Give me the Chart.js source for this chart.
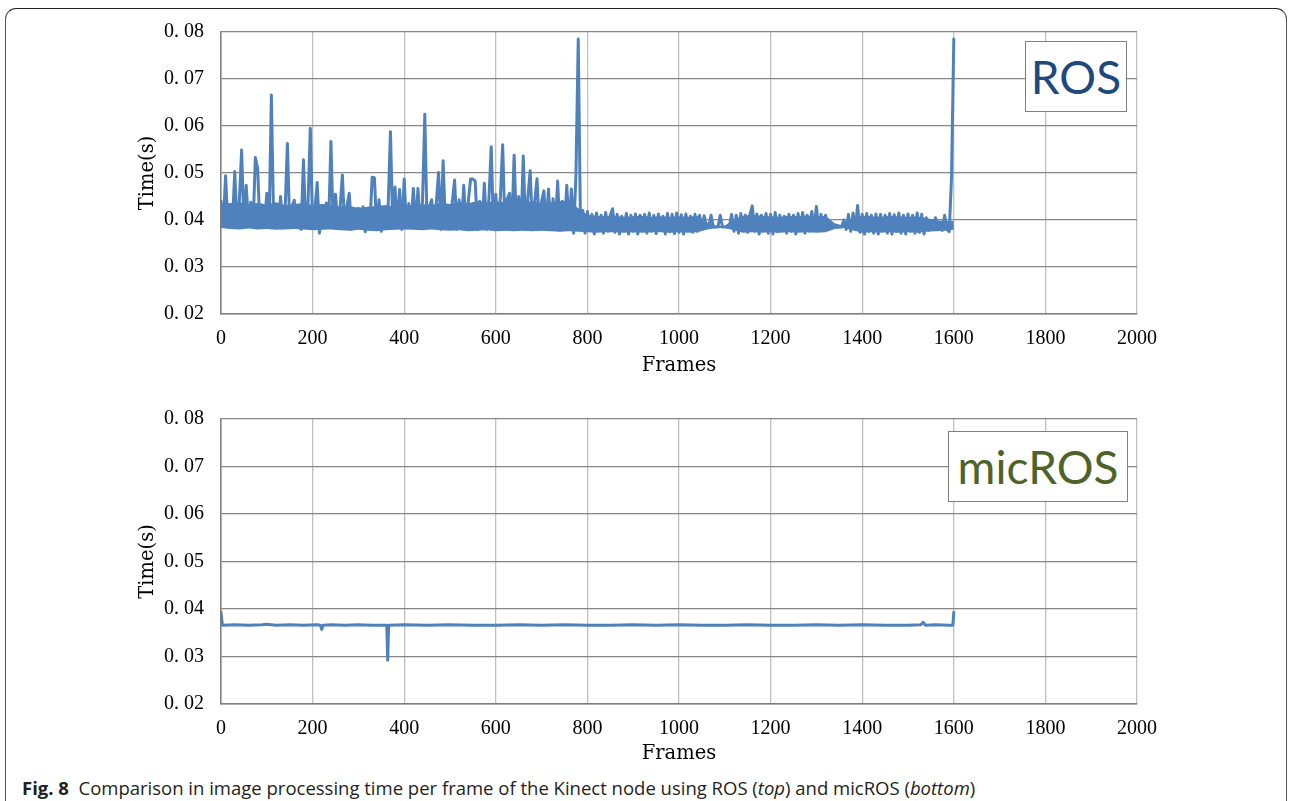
<!DOCTYPE html>
<html>
<head>
<meta charset="utf-8">
<script src="https://cdn.jsdelivr.net/npm/chart.js@4/dist/chart.umd.min.js"></script>
<style>
  html, body { margin:0; padding:0; background:#fff; width:1290px; height:801px; overflow:hidden; }
  #frame { position:absolute; left:5px; top:8px; width:1282px; height:820px; border:1.3px solid #555; border-top-color:#222; border-radius:11px; box-sizing:border-box; }
  canvas { position:absolute; }
  .box { position:absolute; background:#fff; border:1.5px solid #7F7F7F; box-sizing:border-box; display:flex; align-items:center; justify-content:center; font-family:Lato, "Open Sans", sans-serif; font-size:46px; line-height:1; }
  #rosBox { left:1025px; top:41px; width:102px; height:71px; color:#1F497D; }
  #micBox { left:948px; top:431px; width:180px; height:71px; color:#4F6228; }
  #caption { position:absolute; left:22px; top:775px; font-family:"Open Sans", "Noto Sans", sans-serif; font-size:18.5px; color:#231F20; white-space:nowrap; }
  #caption b { font-weight:700; }
</style>
</head>
<body>
<div id="frame"></div>
<canvas id="rosChart" width="1030" height="360" style="left:130px; top:20px;"></canvas>
<canvas id="micChart" width="1030" height="365" style="left:130px; top:405px;"></canvas>
<div class="box" id="rosBox">ROS</div>
<div class="box" id="micBox">micROS</div>
<div id="caption"><b>Fig. 8</b>&nbsp; Comparison in image processing time per frame of the Kinect node using ROS (<i>top</i>) and micROS (<i>bottom</i>)</div>
<script>
// ---- tick labels ----
const xTickValues = [0, 200, 400, 600, 800, 1000, 1200, 1400, 1600, 1800, 2000];
const xTickLabels = ['0', '200', '400', '600', '800', '1000', '1200', '1400', '1600', '1800', '2000'];
const yTickValues = [0.02, 0.03, 0.04, 0.05, 0.06, 0.07, 0.08];
const yTickLabels = ['0. 02', '0. 03', '0. 04', '0. 05', '0. 06', '0. 07', '0. 08'];

// ---- ROS series: processing time (s), one reading every 5 frames (frames 0..1600) ----
const rosFrameStep = 5;
const rosTimes = [
  0.0440, 0.0390, 0.0494, 0.0385, 0.0430, 0.0392, 0.0503, 0.0388, 0.0440, 0.0549,
  0.0385, 0.0474, 0.0392, 0.0438, 0.0386, 0.0533, 0.0510, 0.0384, 0.0432, 0.0390,
  0.0457, 0.0386, 0.0666, 0.0390, 0.0425, 0.0384, 0.0450, 0.0388, 0.0420, 0.0563,
  0.0387, 0.0428, 0.0442, 0.0385, 0.0420, 0.0380, 0.0528, 0.0388, 0.0435, 0.0595,
  0.0386, 0.0422, 0.0480, 0.0372, 0.0425, 0.0384, 0.0436, 0.0388, 0.0567, 0.0386,
  0.0455, 0.0388, 0.0425, 0.0496, 0.0384, 0.0430, 0.0457, 0.0380, 0.0415, 0.0388,
  0.0425, 0.0382, 0.0428, 0.0375, 0.0420, 0.0386, 0.0491, 0.0490, 0.0380, 0.0443,
  0.0376, 0.0420, 0.0385, 0.0430, 0.0588, 0.0384, 0.0470, 0.0386, 0.0465, 0.0380,
  0.0487, 0.0385, 0.0435, 0.0388, 0.0467, 0.0384, 0.0467, 0.0390, 0.0440, 0.0625,
  0.0386, 0.0428, 0.0443, 0.0384, 0.0435, 0.0501, 0.0380, 0.0526, 0.0388, 0.0430,
  0.0385, 0.0438, 0.0485, 0.0380, 0.0443, 0.0386, 0.0474, 0.0382, 0.0440, 0.0487,
  0.0487, 0.0483, 0.0380, 0.0440, 0.0386, 0.0478, 0.0380, 0.0445, 0.0556, 0.0382,
  0.0455, 0.0380, 0.0448, 0.0560, 0.0384, 0.0445, 0.0457, 0.0380, 0.0538, 0.0386,
  0.0450, 0.0382, 0.0536, 0.0380, 0.0448, 0.0505, 0.0384, 0.0440, 0.0488, 0.0380,
  0.0440, 0.0462, 0.0382, 0.0466, 0.0380, 0.0445, 0.0386, 0.0483, 0.0378, 0.0440,
  0.0380, 0.0474, 0.0382, 0.0466, 0.0372, 0.0496, 0.0785,
  0.0380, 0.0420, 0.0372,
  0.0418, 0.0378, 0.0412, 0.0370, 0.0415, 0.0380, 0.0410, 0.0372, 0.0416, 0.0376,
  0.0410, 0.0424, 0.0374, 0.0412, 0.0370, 0.0408, 0.0378, 0.0414, 0.0370, 0.0410,
  0.0376, 0.0413, 0.0370, 0.0410, 0.0378, 0.0412, 0.0372, 0.0415, 0.0376, 0.0410,
  0.0371, 0.0413, 0.0378, 0.0408, 0.0370, 0.0414, 0.0375, 0.0412, 0.0371, 0.0415,
  0.0374, 0.0411, 0.0370, 0.0413, 0.0378, 0.0408, 0.0374, 0.0412, 0.0376, 0.0410,
  0.0380, 0.0409, 0.0385, 0.0385, 0.0410, 0.0385, 0.0385, 0.0385, 0.0410, 0.0385,
  0.0385, 0.0385, 0.0386, 0.0412, 0.0376, 0.0410, 0.0372, 0.0414, 0.0378, 0.0410,
  0.0374, 0.0412, 0.0430, 0.0376, 0.0413, 0.0370, 0.0410, 0.0378, 0.0414, 0.0372,
  0.0412, 0.0370, 0.0416, 0.0375, 0.0410, 0.0380, 0.0408, 0.0372, 0.0412, 0.0376,
  0.0410, 0.0370, 0.0414, 0.0378, 0.0416, 0.0372, 0.0410, 0.0376, 0.0418, 0.0380,
  0.0429, 0.0378, 0.0412, 0.0384, 0.0410, 0.0385, 0.0386, 0.0385, 0.0388, 0.0385,
  0.0386, 0.0385, 0.0400, 0.0380, 0.0412, 0.0376, 0.0415, 0.0380, 0.0431, 0.0374,
  0.0412, 0.0370, 0.0414, 0.0376, 0.0410, 0.0372, 0.0413, 0.0370, 0.0412, 0.0378,
  0.0410, 0.0372, 0.0414, 0.0370, 0.0411, 0.0376, 0.0415, 0.0372, 0.0410, 0.0370,
  0.0413, 0.0376, 0.0410, 0.0372, 0.0415, 0.0374, 0.0412, 0.0370, 0.0405, 0.0378,
  0.0392, 0.0380, 0.0405, 0.0382, 0.0390, 0.0378, 0.0410, 0.0380, 0.0375, 0.0490, 0.0785
];

// ---- ROS dense-noise band (solid core of the trace), read every 20 frames (frames 0..1600) ----
const rosBandStep = 20;
const rosBandLow = [
  0.0383, 0.0381, 0.0380, 0.0382, 0.0380, 0.0381, 0.0379, 0.0380, 0.0381, 0.0380,
  0.0378, 0.0379, 0.0380, 0.0378, 0.0377, 0.0379, 0.0377, 0.0376, 0.0378, 0.0379,
  0.0380, 0.0379, 0.0378, 0.0380, 0.0378, 0.0377, 0.0378, 0.0376, 0.0377, 0.0378,
  0.0376, 0.0377, 0.0376, 0.0377, 0.0376, 0.0377, 0.0376, 0.0375, 0.0376, 0.0375,
  0.0374, 0.0373, 0.0374, 0.0374, 0.0373, 0.0374, 0.0373, 0.0374, 0.0374, 0.0373,
  0.0374, 0.0373, 0.0374, 0.0379, 0.0383, 0.0383, 0.0378, 0.0373, 0.0374, 0.0373,
  0.0374, 0.0373, 0.0374, 0.0373, 0.0374, 0.0373, 0.0374, 0.0381, 0.0383, 0.0378,
  0.0373, 0.0374, 0.0373, 0.0374, 0.0373, 0.0374, 0.0373, 0.0375, 0.0376, 0.0377,
  0.0379
];
const rosBandHigh = [
  0.0434, 0.0436, 0.0438, 0.0434, 0.0436, 0.0433, 0.0438, 0.0432, 0.0434, 0.0436,
  0.0432, 0.0434, 0.0433, 0.0428, 0.0430, 0.0426, 0.0428, 0.0430, 0.0432, 0.0428,
  0.0433, 0.0430, 0.0434, 0.0432, 0.0436, 0.0434, 0.0438, 0.0436, 0.0440, 0.0438,
  0.0440, 0.0438, 0.0442, 0.0438, 0.0440, 0.0436, 0.0438, 0.0440, 0.0442, 0.0425,
  0.0411, 0.0409, 0.0408, 0.0409, 0.0407, 0.0408, 0.0409, 0.0407, 0.0408, 0.0407,
  0.0408, 0.0407, 0.0409, 0.0396, 0.0388, 0.0388, 0.0402, 0.0409, 0.0411, 0.0409,
  0.0408, 0.0407, 0.0409, 0.0408, 0.0410, 0.0407, 0.0409, 0.0393, 0.0388, 0.0402,
  0.0409, 0.0408, 0.0407, 0.0409, 0.0408, 0.0407, 0.0408, 0.0404, 0.0400, 0.0398,
  0.0398
];

// ---- micROS series ----
const micFrames = [0, 3, 30, 60, 90, 100, 120, 150, 180, 210, 217, 220, 223, 240, 270, 300, 330, 360, 362, 364, 366,
  400, 450, 500, 550, 600, 650, 700, 750, 800, 850, 900, 950, 1000, 1050, 1100, 1150, 1200, 1250, 1300,
  1350, 1400, 1450, 1500, 1528, 1533, 1538, 1560, 1590, 1598, 1600];
const micTimes = [0.0393, 0.0366, 0.0367, 0.0366, 0.0367, 0.0368, 0.0366, 0.0367, 0.0366, 0.0367, 0.0366, 0.0357, 0.0366, 0.0367, 0.0366, 0.0367, 0.0366, 0.0366, 0.0366, 0.0292, 0.0366,
  0.0367, 0.0366, 0.0367, 0.0366, 0.0366, 0.0367, 0.0366, 0.0367, 0.0366, 0.0366, 0.0367, 0.0366, 0.0367, 0.0366, 0.0366, 0.0367, 0.0366, 0.0366, 0.0367,
  0.0366, 0.0367, 0.0366, 0.0366, 0.0367, 0.0372, 0.0366, 0.0367, 0.0366, 0.0366, 0.0393];

const LINE_BLUE = '#4F81BD';
const rosPoints = rosTimes.map((t, i) => ({ x: i * rosFrameStep, y: t }));
const rosLowPoints = rosBandLow.map((t, i) => ({ x: i * rosBandStep, y: t }));
const rosHighPoints = rosBandHigh.map((t, i) => ({ x: i * rosBandStep, y: t }));
const micPoints = micFrames.map((f, i) => ({ x: f, y: micTimes[i] }));

function lineSet(points) {
  return { data: points, borderColor: LINE_BLUE, borderWidth: 3, pointRadius: 0, tension: 0,
    borderJoinStyle: 'round', borderCapStyle: 'round', fill: false };
}
function bandSets(low, high) {
  return [
    { data: low, borderWidth: 0, borderColor: 'rgba(0,0,0,0)', pointRadius: 0, tension: 0, fill: false },
    { data: high, borderWidth: 0, borderColor: 'rgba(0,0,0,0)', backgroundColor: LINE_BLUE, pointRadius: 0, tension: 0, fill: '-1' }
  ];
}

function makeChart(id, datasets, padTop, titlePadBottom) {
  return new Chart(document.getElementById(id), {
    type: 'line',
    data: { datasets: datasets },
    options: {
      responsive: false, animation: false, devicePixelRatio: 1,
      layout: { padding: { top: padTop, right: 23, left: 0, bottom: 0 } },
      plugins: { legend: { display: false }, tooltip: { enabled: false } },
      scales: {
        x: {
          type: 'linear', min: 0, max: 2000,
          afterBuildTicks: s => { s.ticks = xTickValues.map(v => ({ value: v })); },
          afterFit: s => { s.height = 66; s.paddingLeft = 0; s.paddingRight = 0; },
          ticks: { callback: (v, i) => xTickLabels[i], font: { family: 'Liberation Serif', size: 20 }, color: '#000', padding: 13, maxRotation: 0, autoSkip: false },
          grid: { color: '#C0C0C0', lineWidth: 1.3, drawTicks: false },
          border: { color: '#7F7F7F', width: 1.5 },
          title: { display: true, text: 'Frames', font: { family: 'DejaVu Serif', size: 19.5 }, color: '#000', padding: { top: 0, bottom: titlePadBottom } }
        },
        y: {
          type: 'linear', min: 0.02, max: 0.08,
          afterBuildTicks: s => { s.ticks = yTickValues.map(v => ({ value: v })); },
          afterFit: s => { s.width = 91; s.paddingTop = 0; s.paddingBottom = 0; },
          ticks: { callback: (v, i) => yTickLabels[i], font: { family: 'Liberation Serif', size: 20 }, color: '#000', padding: 17 },
          grid: { color: '#868686', lineWidth: 1.3, drawTicks: false },
          border: { color: '#7F7F7F', width: 1.5 },
          title: { display: true, text: 'Time(s)', font: { family: 'DejaVu Serif', size: 19.5 }, color: '#000', padding: { top: 6, bottom: 0 } }
        }
      }
    }
  });
}

makeChart('rosChart', [lineSet(rosPoints)].concat(bandSets(rosLowPoints, rosHighPoints)), 12, 2);
makeChart('micChart', [lineSet(micPoints)], 14, 4);
</script>
</body>
</html>
